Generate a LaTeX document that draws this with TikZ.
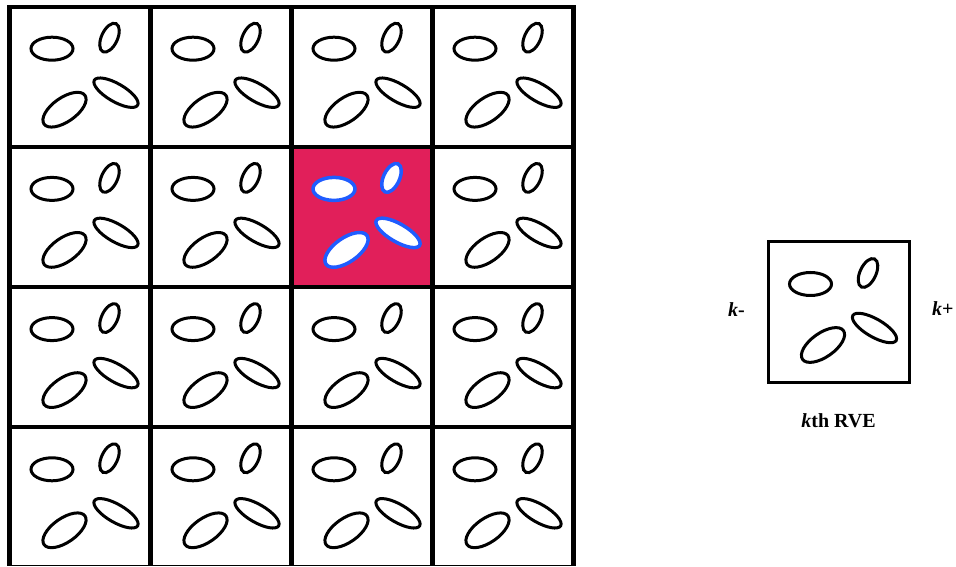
\documentclass[tikz,border=0pt]{standalone}
\usepackage{fontspec}
\setmainfont{Liberation Serif}
\usepackage{tikz}
\usetikzlibrary{positioning}
\definecolor{rojoRVE}{HTML}{E11F5A}
\definecolor{azulIncl}{HTML}{1F5CFF}
\tikzset{
  inclusiones/.pic={
    \draw[incl] (42.5,-42) ellipse[x radius=21, y radius=11.5];
    \draw[incl, shift={(100,-31)}, rotate=65] (0,0) ellipse[x radius=15.5, y radius=8];
    \draw[incl, shift={(55,-103)}, rotate=35] (0,0) ellipse[x radius=25, y radius=12];
    \draw[incl, shift={(106.5,-86)}, rotate=-30] (0,0) ellipse[x radius=25, y radius=9];
  }
}

\begin{document}
\begin{tikzpicture}[
  x=1pt, y=1pt,
  celda/.style={draw=black, line width=4.3pt, minimum width=141pt, minimum height=140.2pt,
                inner sep=0pt, outer sep=0pt},
  incl/.style={draw=black, line width=3pt},
  etiq/.style={inner sep=0pt, font=\fontsize{20}{24}\selectfont\bfseries}
]
  \useasboundingbox (0,0) rectangle (956,567);
  \clip (0,1.5) rectangle (956,567);

  % --- Malla 4x4 de celdas ---
  \foreach \i in {0,...,3}
    \foreach \j in {0,...,3} {
      \node[celda] (c-\i-\j) at (80+141*\i, 490.2-140.2*\j) {};
      \pic at (c-\i-\j.north west) {inclusiones};
    }

  % --- Celda resaltada (k-esima) ---
  \node[celda, fill=rojoRVE] (kcelda) at (c-2-1) {};
  \pic[incl/.style={draw=azulIncl, fill=white, line width=3.5pt}] at (kcelda.north west) {inclusiones};

  % --- RVE aislado ---
  \node[celda, line width=3pt, minimum height=141pt] (rve) at (838.5, 254.5) {};
  \pic at (rve.north west) {inclusiones};

  \node[etiq, left=23pt of rve, yshift=3pt] (kmenos) {\textit{k}-};
  \node[etiq, right=23pt of rve, yshift=4pt] (kmas) {\textit{k}+};
  \node[etiq, below=30pt of rve] (krve) {\textit{k}th RVE};
\end{tikzpicture}
\end{document}
